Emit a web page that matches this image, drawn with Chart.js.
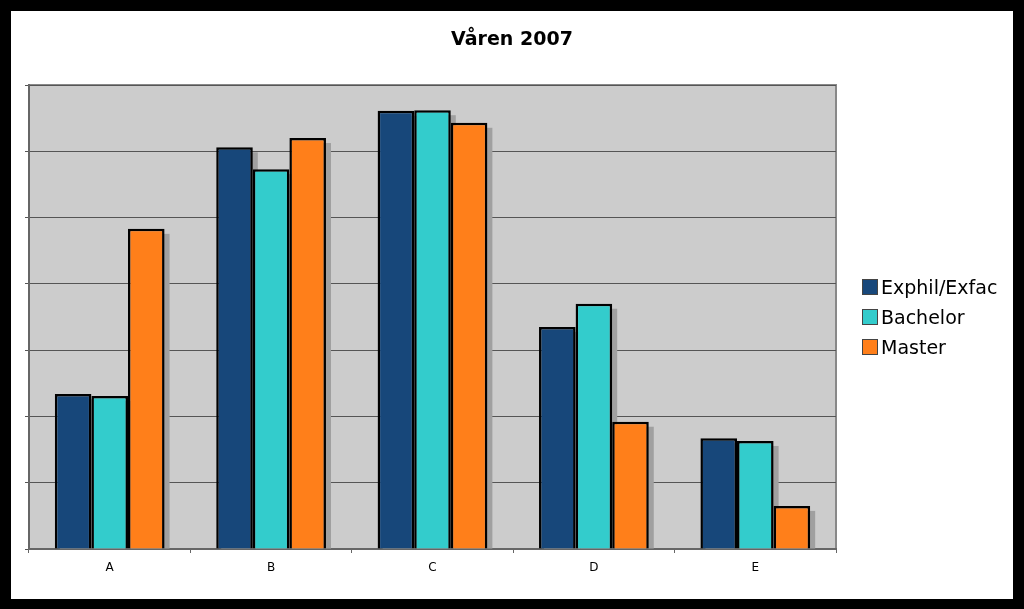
<!DOCTYPE html>
<html>
<head>
<meta charset="utf-8">
<script src="https://cdn.jsdelivr.net/npm/chart.js@4/dist/chart.umd.min.js"></script>
<style>
  html, body { margin: 0; padding: 0; background: #000; }
  #frame {
    position: absolute; left: 11px; top: 11px;
    width: 1002px; height: 588px; background: #fff;
  }
  #chart { position: absolute; left: 0; top: 0; }
  #title {
    position: absolute; left: 0; top: 16px; width: 1002px; text-align: center;
    font-family: "DejaVu Sans", Verdana, sans-serif; font-size: 19px; font-weight: bold; color: #000;
  }
  #legend {
    position: absolute; left: 851px; top: 261px;
    font-family: "DejaVu Sans", Verdana, sans-serif; font-size: 19px; color: #000;
  }
  .item { height: 30px; display: flex; align-items: center; }
  .swatch { width: 16px; height: 16px; margin-right: 3px; box-sizing: border-box; border: 1px solid #444; }
</style>
</head>
<body>
<div id="frame">
  <canvas id="chart" width="1002" height="588"></canvas>
  <div id="title">Våren 2007</div>
  <div id="legend"></div>
</div>
<script>
// ==========================
// Data
// ==========================

const categories = ["A", "B", "C", "D", "E"];
const seriesNames = ["Exphil/Exfac", "Bachelor", "Master"];
const exphil = [2.34, 6.06, 6.61, 3.35, 1.67];
const bachelor = [2.31, 5.73, 6.62, 3.70, 1.63];
const master = [4.83, 6.20, 6.43, 1.92, 0.65];
const colors = ["#17477a", "#33cccc", "#ff7f1a"];

// ==========================
// Plugins
// ==========================

const plotBackground = {
  id: "plotBackground",
  beforeDraw(chart) {
    const { ctx, chartArea: a } = chart;
    ctx.save();
    ctx.fillStyle = "#cccccc";
    ctx.fillRect(a.left, a.top, a.right - a.left, a.bottom - a.top);
    ctx.strokeStyle = "#888888";
    ctx.lineWidth = 2;
    ctx.beginPath();
    ctx.moveTo(a.left, a.top);
    ctx.lineTo(a.right, a.top);
    ctx.lineTo(a.right, a.bottom);
    ctx.stroke();
    ctx.restore();
  },
};

const barShadow = {
  id: "barShadow",
  beforeDatasetsDraw(chart) {
    const { ctx } = chart;
    ctx.save();
    ctx.fillStyle = "#a0a0a0";
    chart.data.datasets.forEach((ds, i) => {
      chart.getDatasetMeta(i).data.forEach((bar) => {
        const w = bar.width;
        ctx.fillRect(bar.x - w / 2 + 5, bar.y + 5, w, bar.base - bar.y - 5);
      });
    });
    ctx.restore();
  },
};

// ==========================
// Chart
// ==========================

const seriesValues = [exphil, bachelor, master];

new Chart(document.getElementById("chart"), {
  type: "bar",
  data: {
    labels: categories,
    datasets: seriesNames.map((name, i) => ({
      label: name,
      data: seriesValues[i],
      backgroundColor: colors[i],
      borderColor: "#000",
      borderWidth: 2.5,
      borderSkipped: "bottom",
      barPercentage: 1,
      categoryPercentage: 0.68,
    })),
  },
  options: {
    responsive: false,
    animation: false,
    layout: { padding: { left: 13, right: 177, top: 74, bottom: 0 } },
    plugins: {
      legend: { display: false },
      tooltip: { enabled: false },
    },
    scales: {
      x: {
        afterFit(scale) { scale.height = 50; },
        grid: { display: true, drawOnChartArea: false, drawTicks: true, tickLength: 4, color: "#666" },
        border: { color: "#666", width: 2 },
        ticks: { color: "#000", padding: 8, font: { family: "DejaVu Sans", size: 12 } },
      },
      y: {
        min: 0,
        max: 7,
        afterFit(scale) { scale.width = 5; },
        ticks: { display: false, stepSize: 1 },
        grid: { color: "#555", lineWidth: 1, tickLength: 4, drawTicks: true },
        border: { color: "#666", width: 2 },
      },
    },
  },
  plugins: [plotBackground, barShadow],
});

// ==========================
// Legend
// ==========================

const legendEl = document.getElementById("legend");
seriesNames.forEach((name, i) => {
  legendEl.innerHTML += `
    <div class="item"><span class="swatch" style="background:${colors[i]}"></span>${name}</div>
  `;
});
</script>
</body>
</html>
